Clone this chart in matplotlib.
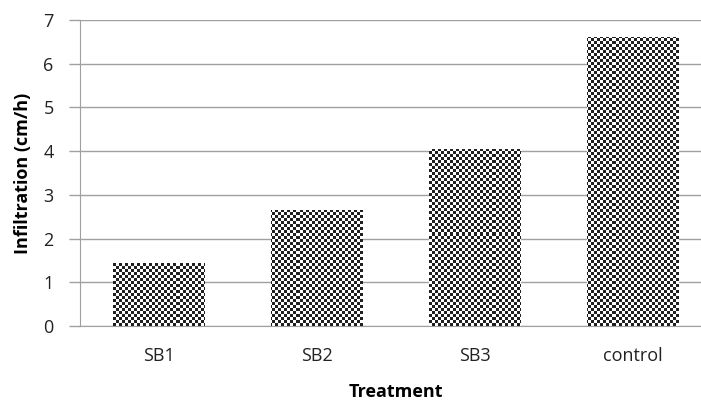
import numpy as np
import matplotlib.pyplot as plt

treatments = ["SB1", "SB2", "SB3", "control"]
infiltration = [1.43, 2.65, 4.05, 6.61]

plt.rcParams["font.family"] = ["Open Sans", "DejaVu Sans"]

fig = plt.figure(figsize=(7.01, 4.03), dpi=100)
ax = fig.add_axes([80 / 701, 77 / 403, 632 / 701, 306 / 403])

x = np.arange(len(treatments))
bars = ax.bar(x, infiltration, width=0.576, color="none", edgecolor="none", zorder=3)

ax.set_xlim(-0.5, len(treatments) - 0.5)
ax.set_ylim(0, 7)

# checkerboard fill, clipped to each bar
n_x, n_y = 632 // 3, 306 // 3
yy, xx = np.mgrid[0:n_y, 0:n_x]
checker = ((xx + yy) % 2).astype(float)
for b in bars:
    im = ax.imshow(checker, cmap="gray", vmin=-0.15, vmax=1.0,
                   extent=[-0.5, len(treatments) - 0.5, 0, 7],
                   aspect="auto", interpolation="nearest", zorder=3)
    im.set_clip_path(b)

ax.set_yticks(range(0, 8))
ax.yaxis.grid(True, color="#a0a0a0", linewidth=1)
ax.set_axisbelow(True)
ax.set_xticks(x)
ax.set_xticklabels(treatments)
ax.tick_params(axis="x", length=0, pad=15, labelsize=13, colors="#222222")
ax.tick_params(axis="y", length=8, width=1, color="#a0a0a0", pad=11,
               labelsize=13, labelcolor="#222222")

for s in ["top", "right"]:
    ax.spines[s].set_visible(False)
for s in ["left", "bottom"]:
    ax.spines[s].set_color("#a0a0a0")

ax.set_xlabel("Treatment", fontsize=13, fontweight="bold", labelpad=13)
ax.set_ylabel("Infiltration (cm/h)", fontsize=13, fontweight="bold", labelpad=8)

plt.savefig("out.png", dpi=100)
